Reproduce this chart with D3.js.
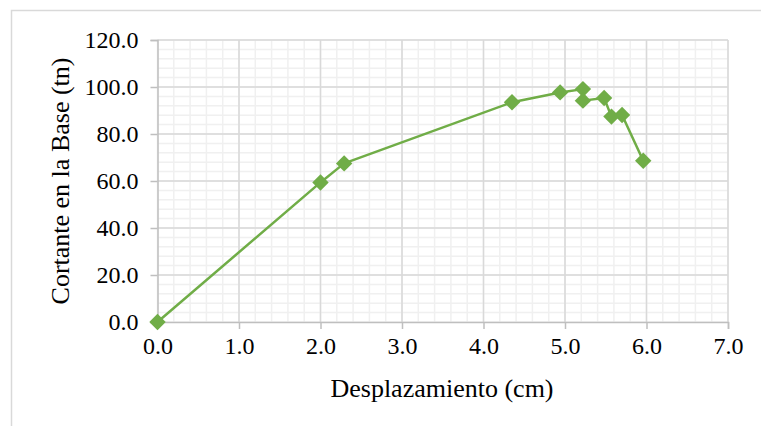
<!DOCTYPE html>
<html>
<head>
<meta charset="utf-8">
<script src="https://cdn.jsdelivr.net/npm/d3@7"></script>
<style>
  body { margin: 0; background: #fff; }
  svg { display: block; }
</style>
</head>
<body>
<svg id="chart" width="761" height="426"></svg>
<script>
// desplazamiento (cm) vs cortante en la base (tn)
let desplazamiento = [0, 2.00, 2.29, 4.35, 4.94, 5.22, 5.22, 5.48, 5.57, 5.70, 5.96];
let cortante = [0, 59.4, 67.5, 93.5, 97.7, 99.1, 94.2, 95.3, 87.4, 88.1, 68.6];
let xTicks = [0, 1, 2, 3, 4, 5, 6, 7];
let yTicks = [0, 20, 40, 60, 80, 100, 120];

let svg = d3.select("#chart");
let plotLeft = 157.5, plotRight = 728, plotTop = 40, plotBottom = 322;
let green = "#70ad47";

let x = d3.scaleLinear().domain([0, 7]).range([plotLeft, plotRight]);
let y = d3.scaleLinear().domain([0, 120]).range([plotBottom, plotTop]);

// outer border (chart area)
svg.append("rect")
    .attr("x", 11.5).attr("y", 10.5)
    .attr("width", 780).attr("height", 440)
    .attr("fill", "none")
    .attr("stroke", "#d9d9d9")
    .attr("stroke-width", 1.5);

// minor grid
let xMinor = d3.range(0, 7.001, 0.2);
let yMinor = d3.range(0, 120.001, 4);
svg.append("g").selectAll("line")
    .data(xMinor)
    .enter().append("line")
    .attr("x1", d => x(d)).attr("x2", d => x(d))
    .attr("y1", plotTop).attr("y2", plotBottom)
    .attr("stroke", "#f0f0f0").attr("stroke-width", 1.5);
svg.append("g").selectAll("line")
    .data(yMinor)
    .enter().append("line")
    .attr("x1", plotLeft).attr("x2", plotRight)
    .attr("y1", d => y(d)).attr("y2", d => y(d))
    .attr("stroke", "#f0f0f0").attr("stroke-width", 1.5);

// major grid
svg.append("g").selectAll("line")
    .data(xTicks.slice(1))
    .enter().append("line")
    .attr("x1", d => x(d)).attr("x2", d => x(d))
    .attr("y1", plotTop).attr("y2", plotBottom)
    .attr("stroke", "#d9d9d9").attr("stroke-width", 1.5);
svg.append("g").selectAll("line")
    .data(yTicks.slice(1))
    .enter().append("line")
    .attr("x1", plotLeft).attr("x2", plotRight)
    .attr("y1", d => y(d)).attr("y2", d => y(d))
    .attr("stroke", "#d9d9d9").attr("stroke-width", 1.5);

// axes
let xAxis = d3.axisBottom(x).tickValues(xTicks).tickSize(7).tickPadding(8)
    .tickFormat(d3.format(".1f"));
let yAxis = d3.axisLeft(y).tickValues(yTicks).tickSize(7).tickPadding(12)
    .tickFormat(d3.format(".1f"));

let gx = svg.append("g").attr("transform", "translate(0," + plotBottom + ")").call(xAxis);
let gy = svg.append("g").attr("transform", "translate(" + plotLeft + ",0)").call(yAxis);

[gx, gy].forEach(function(g) {
  g.select(".domain").attr("stroke", "#bfbfbf").attr("stroke-width", 1.5);
  g.selectAll(".tick line").attr("stroke", "#bfbfbf").attr("stroke-width", 1.5);
  g.selectAll("text")
      .attr("font-family", "'Liberation Serif', 'Times New Roman', serif")
      .attr("font-size", 24)
      .attr("fill", "#000");
});

// axis titles
svg.append("text")
    .attr("x", 442).attr("y", 397)
    .attr("text-anchor", "middle")
    .attr("font-family", "'Liberation Serif', 'Times New Roman', serif")
    .attr("font-size", 26)
    .text("Desplazamiento (cm)");

svg.append("text")
    .attr("transform", "translate(69,181) rotate(-90)")
    .attr("text-anchor", "middle")
    .attr("font-family", "'Liberation Serif', 'Times New Roman', serif")
    .attr("font-size", 26)
    .text("Cortante en la Base (tn)");

// series
let pts = desplazamiento.map((d, i) => [d, cortante[i]]);

svg.append("path")
    .datum(pts)
    .attr("fill", "none")
    .attr("stroke", green)
    .attr("stroke-width", 2.5)
    .attr("stroke-linejoin", "round")
    .attr("d", d3.line().x(d => x(d[0])).y(d => y(d[1])));

svg.append("g").selectAll("path")
    .data(pts)
    .enter().append("path")
    .attr("d", d3.symbol().type(d3.symbolSquare).size(135))
    .attr("transform", d => "translate(" + x(d[0]) + "," + y(d[1]) + ") rotate(45)")
    .attr("fill", green);
</script>
</body>
</html>
